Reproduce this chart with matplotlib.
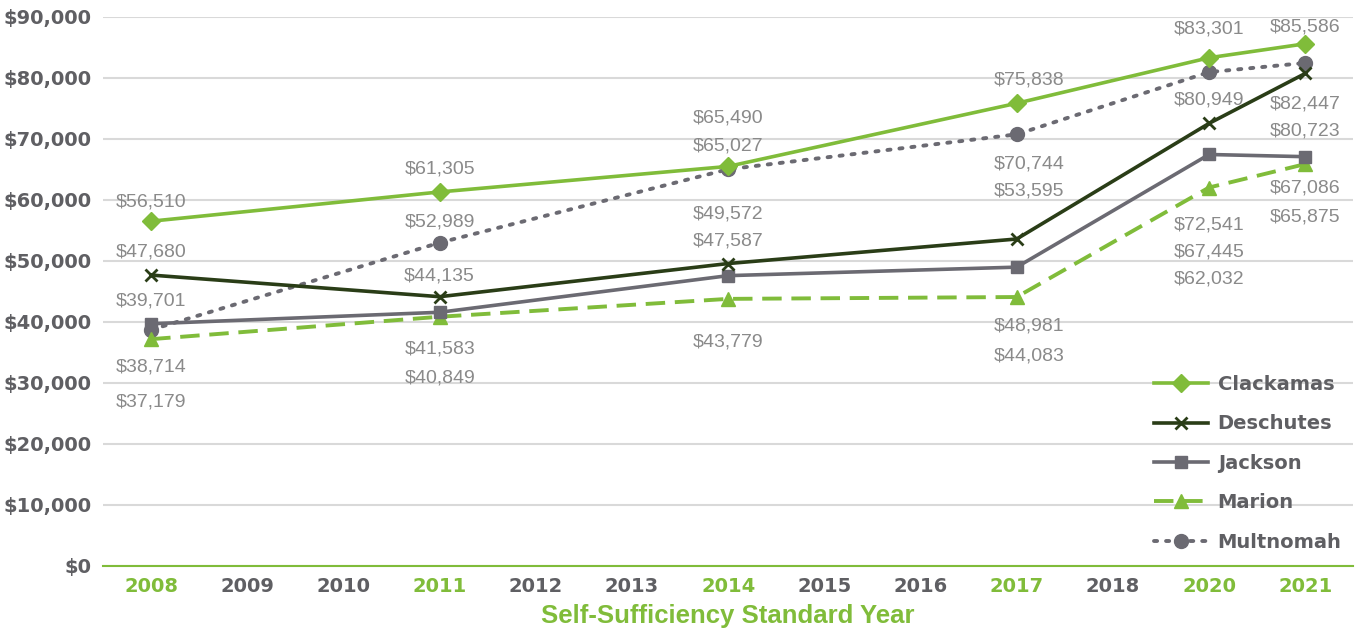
import numpy as np
import matplotlib.pyplot as plt
from matplotlib.ticker import FuncFormatter

# categories on the x axis (2019 is skipped in the source)
years = ["2008", "2009", "2010", "2011", "2012", "2013", "2014",
         "2015", "2016", "2017", "2018", "2020", "2021"]
data_years = ["2008", "2011", "2014", "2017", "2020", "2021"]

clackamas = [56510, 61305, 65490, 75838, 83301, 85586]
deschutes = [47680, 44135, 49572, 53595, 72541, 80723]
jackson = [39701, 41583, 47587, 48981, 67445, 67086]
marion = [37179, 40849, 43779, 44083, 62032, 65875]
multnomah = [38714, 52989, 65027, 70744, 80949, 82447]

# label offsets in pixels (positive = above point)
off_clack = [19, 23, 48, 23, 29, 17]
off_desch = [23, 21, 50, 48, -102, -58]
off_jack = [23, -37, 35, -59, -98, -31]
off_mar = [-63, -61, -43, -59, -91, -53]
off_mult = [-37, 21, 23, -30, -28, -41]
# small horizontal nudge per year column
off_x = [0, 0, 0, 12, 0, 0]

GREEN = "#80BC3A"
DKGREEN = "#2A3D17"
GRAY = "#6B6A72"
TXT = "#5F5F63"
LBL = "#8A8A8A"

fig = plt.figure(figsize=(13.56, 6.37), dpi=100)
ax = fig.add_axes([0.076, 0.1115, 0.922, 0.862])

xpos = [years.index(y) for y in data_years]

series = [
    ("Clackamas", clackamas, off_clack, dict(color=GREEN, ls="-", marker="D", ms=9, lw=2.6, zorder=6)),
    ("Deschutes", deschutes, off_desch, dict(color=DKGREEN, ls="-", marker="x", ms=8, mew=2, lw=2.6, zorder=5)),
    ("Jackson", jackson, off_jack, dict(color=GRAY, ls="-", marker="s", ms=9, lw=2.6, zorder=4)),
    ("Marion", marion, off_mar, dict(color=GREEN, ls=(0, (5, 2.5)), marker="^", ms=10, lw=2.8, zorder=3)),
    ("Multnomah", multnomah, off_mult, dict(color=GRAY, ls=(0, (0.8, 2.3)), marker="o", ms=10, lw=2.8,
                                            dash_capstyle="round", zorder=2)),
]

for name, vals, offs, kw in series:
    ax.plot(xpos, vals, label=name, **kw)
    for x, v, o, dx in zip(xpos, vals, offs, off_x):
        ax.annotate("${:,}".format(v), (x, v), xytext=(dx, o), textcoords="offset pixels",
                    ha="center", va="center", fontsize=14, color=LBL,
                    family=["Liberation Sans", "DejaVu Sans"])

ax.set_xlim(-0.5, len(years) - 0.5)
ax.set_ylim(0, 90000)
ax.set_yticks(np.arange(0, 90001, 10000))
ax.yaxis.set_major_formatter(FuncFormatter(lambda v, p: "${:,.0f}".format(v)))
ax.set_xticks(range(len(years)))
ax.set_xticklabels(years)
for lab in ax.get_xticklabels():
    lab.set_fontweight("bold")
    lab.set_color(GREEN if lab.get_text() in data_years else TXT)
    lab.set_fontsize(14)
for lab in ax.get_yticklabels():
    lab.set_fontweight("bold")
    lab.set_color(TXT)
    lab.set_fontsize(14)

ax.grid(axis="y", color="#D9D9D9", lw=1.5)
ax.set_axisbelow(True)
for s in ["top", "right", "left"]:
    ax.spines[s].set_visible(False)
ax.spines["bottom"].set_color(GREEN)
ax.spines["bottom"].set_linewidth(1.5)
ax.tick_params(length=0, pad=8)

ax.set_xlabel("Self-Sufficiency Standard Year", color=GREEN, fontsize=18.5,
              fontweight="bold", labelpad=6, family=["Liberation Sans", "DejaVu Sans"])

leg = ax.legend(loc="lower right", bbox_to_anchor=(1.0, 0.005), frameon=False,
                fontsize=14, labelspacing=1.05, handlelength=2.8, handletextpad=0.5,
                borderaxespad=0.2)
for t in leg.get_texts():
    t.set_color(TXT)
    t.set_fontweight("bold")

fig.savefig("out.png", dpi=100)
